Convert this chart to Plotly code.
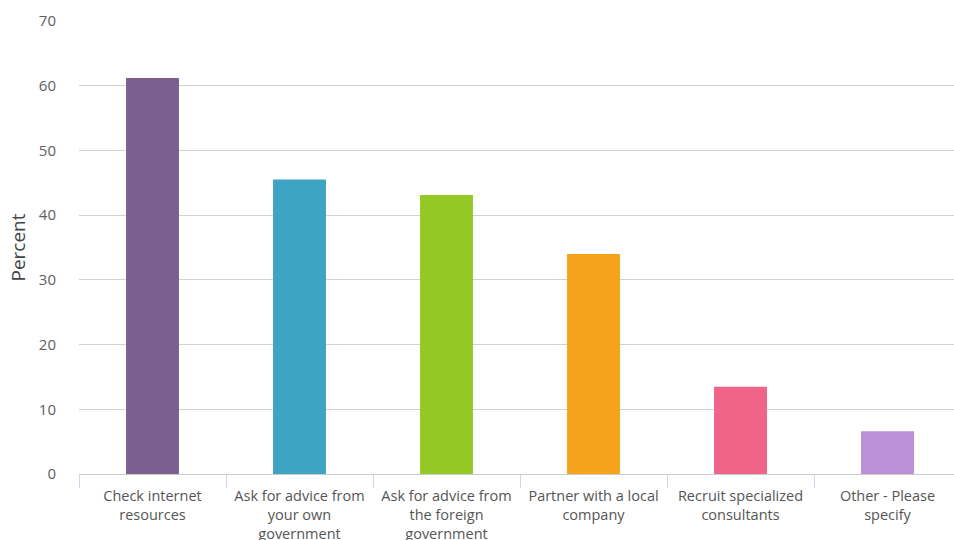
import plotly.graph_objects as go

categories = [
    "Check internet<br>resources",
    "Ask for advice from<br>your own<br>government",
    "Ask for advice from<br>the foreign<br>government",
    "Partner with a local<br>company",
    "Recruit specialized<br>consultants",
    "Other - Please<br>specify",
]
values = [61.2, 45.5, 43.1, 34.0, 13.5, 6.6]
colors = ["#7b5f8e", "#3fa3c3", "#93c825", "#f5a31a", "#f06488", "#bd8fd9"]
y_ticks = [0, 10, 20, 30, 40, 50, 60, 70]

fig = go.Figure(go.Bar(
    x=categories, y=values, marker_color=colors, width=0.36,
    marker_line_width=0, hoverinfo="skip",
))

fig.update_layout(
    width=954, height=540,
    margin=dict(l=79, r=0, t=21, b=66),
    paper_bgcolor="white", plot_bgcolor="white",
    font=dict(family="'Open Sans', Lato, sans-serif", size=14, color="#555"),
    showlegend=False,
)
fig.update_xaxes(
    range=[-0.5, 5.5 - 7/147], automargin=False,
    tickson="boundaries", ticks="outside", ticklen=13, tickcolor="#ccd6eb",
    ticklabelstandoff=9,
    showline=True, linecolor="#cccccc", linewidth=1,
    tickfont=dict(size=14.5, color="#555"),
    showgrid=False,
)
fig.update_yaxes(
    range=[0, 70], tickvals=y_ticks, automargin=False,
    showgrid=True, gridcolor="#d2d2d2", gridwidth=1,
    zeroline=False, showline=False,
    ticks="outside", ticklen=0, ticklabelstandoff=19,
    tickfont=dict(size=15, color="#606060"),
    title=dict(text="Percent", font=dict(size=19, color="#444"), standoff=8),
)
fig.write_html("out.html")
